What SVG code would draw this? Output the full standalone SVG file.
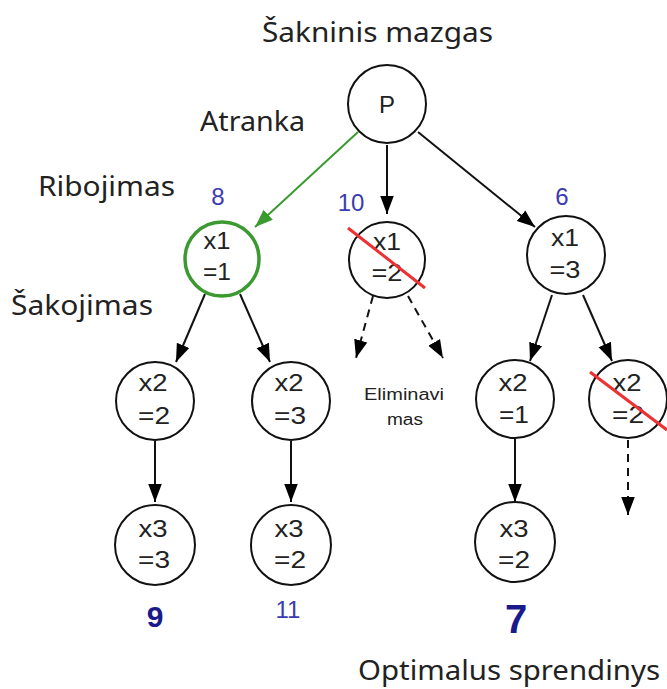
<svg xmlns="http://www.w3.org/2000/svg" width="667" height="689" viewBox="0 0 667 689">
<defs>
<marker id="ah" markerUnits="userSpaceOnUse" markerWidth="18" markerHeight="24" viewBox="0 0 24 18" refX="24" refY="9" orient="auto"><path d="M0,0 L24,9 L0,18 Z" fill="#000"/></marker>
<marker id="ahg" markerUnits="userSpaceOnUse" markerWidth="18" markerHeight="24" viewBox="0 0 24 18" refX="24" refY="9" orient="auto"><path d="M0,0 L24,9 L0,18 Z" fill="#3a9a30"/></marker>
<style>
.n{fill:#fff;stroke:#111;stroke-width:2}
.g{fill:#fff;stroke:#3a9a30;stroke-width:3.5}
.t{font-family:"Liberation Sans",Arial,sans-serif;font-size:24px;fill:#222;text-anchor:middle}
.lab{font-family:"Noto Sans","Open Sans",sans-serif;font-size:27px;fill:#222}
.b{font-family:"Liberation Sans",Arial,sans-serif;font-size:24px;fill:#3b3bb0;text-anchor:middle}
.e{stroke:#111;stroke-width:2;fill:none;marker-end:url(#ah)}
.d{stroke:#111;stroke-width:2;fill:none;stroke-dasharray:8,6;marker-end:url(#ah)}
.x{stroke:#ee3030;stroke-width:3}
</style>
</defs>
<g id="labels">
<text class="lab" x="262" y="42" textLength="231" lengthAdjust="spacingAndGlyphs">Šakninis mazgas</text>
<text class="lab" x="200" y="131" textLength="105" lengthAdjust="spacingAndGlyphs">Atranka</text>
<text class="lab" x="38" y="196" textLength="137" lengthAdjust="spacingAndGlyphs">Ribojimas</text>
<text class="lab" x="11" y="315" textLength="142" lengthAdjust="spacingAndGlyphs">Šakojimas</text>
<text class="lab" x="358" y="680" textLength="302" lengthAdjust="spacingAndGlyphs">Optimalus sprendinys</text>
<text x="364" y="400" font-family="Liberation Sans,Arial,sans-serif" font-size="16" fill="#222" textLength="80" lengthAdjust="spacingAndGlyphs">Eliminavi</text>
<text x="387" y="425" font-family="Liberation Sans,Arial,sans-serif" font-size="16" fill="#222" textLength="36" lengthAdjust="spacingAndGlyphs">mas</text>
<text class="b" x="218" y="205">8</text>
<text class="b" x="351" y="211">10</text>
<text class="b" x="562" y="205">6</text>
<text x="155" y="627" font-family="Liberation Sans,Arial,sans-serif" font-size="30" font-weight="bold" fill="#1a1a8c" text-anchor="middle">9</text>
<text class="b" x="288" y="618" font-size="22">11</text>
<text x="516" y="633" font-family="Liberation Sans,Arial,sans-serif" font-size="40" font-weight="bold" fill="#1a1a8c" text-anchor="middle">7</text>
</g>
<g id="connectors">
<line x1="358" y1="132" x2="255" y2="227" stroke="#3a9a30" stroke-width="2" marker-end="url(#ahg)"/>
<line class="e" x1="387" y1="145" x2="387" y2="214"/>
<line class="e" x1="418" y1="132" x2="535" y2="227"/>
<line class="e" x1="205" y1="294" x2="176" y2="362"/>
<line class="e" x1="240" y1="294" x2="270" y2="362"/>
<line class="d" x1="373" y1="296" x2="356" y2="358"/>
<line class="d" x1="408" y1="296" x2="443" y2="358"/>
<line class="e" x1="552" y1="295" x2="530" y2="361"/>
<line class="e" x1="583" y1="295" x2="612" y2="361"/>
<line class="e" x1="155" y1="441" x2="155" y2="502"/>
<line class="e" x1="291" y1="441" x2="291" y2="502"/>
<line class="e" x1="515" y1="439" x2="515" y2="502"/>
<line class="d" x1="628" y1="440" x2="628" y2="515"/>
</g>
<g id="root"><circle class="n" cx="387" cy="104" r="39"/><text class="t" x="387" y="113" font-size="27">P</text></g>
<g id="x1_1"><circle class="g" cx="222" cy="259" r="37"/><text class="t" x="217" y="249" textLength="27" lengthAdjust="spacingAndGlyphs">x1</text><text class="t" x="217" y="280" textLength="28" lengthAdjust="spacingAndGlyphs">=1</text></g>
<g id="x1_2"><circle class="n" cx="387" cy="260" r="38"/><text class="t" x="387" y="250" textLength="28" lengthAdjust="spacingAndGlyphs">x1</text><text class="t" x="387" y="281" textLength="31" lengthAdjust="spacingAndGlyphs">=2</text><line class="x" x1="348" y1="228" x2="425" y2="288"/></g>
<g id="x1_3"><circle class="n" cx="566" cy="255" r="39"/><text class="t" x="565" y="246" textLength="28" lengthAdjust="spacingAndGlyphs">x1</text><text class="t" x="565" y="278" textLength="31" lengthAdjust="spacingAndGlyphs">=3</text></g>
<g id="x2_2"><circle class="n" cx="155" cy="401" r="39"/><text class="t" x="153" y="391" textLength="29" lengthAdjust="spacingAndGlyphs">x2</text><text class="t" x="154" y="424" textLength="32" lengthAdjust="spacingAndGlyphs">=2</text></g>
<g id="x2_3"><circle class="n" cx="291" cy="401" r="39"/><text class="t" x="289" y="391" textLength="29" lengthAdjust="spacingAndGlyphs">x2</text><text class="t" x="290" y="424" textLength="32" lengthAdjust="spacingAndGlyphs">=3</text></g>
<g id="x2_1"><circle class="n" cx="515" cy="399" r="39"/><text class="t" x="513" y="391" textLength="29" lengthAdjust="spacingAndGlyphs">x2</text><text class="t" x="514" y="423" textLength="30" lengthAdjust="spacingAndGlyphs">=1</text></g>
<g id="x2_2b"><circle class="n" cx="628" cy="399" r="39"/><text class="t" x="627" y="391" textLength="29" lengthAdjust="spacingAndGlyphs">x2</text><text class="t" x="628" y="423" textLength="32" lengthAdjust="spacingAndGlyphs">=2</text><line class="x" x1="590" y1="372" x2="667" y2="430"/></g>
<g id="x3_3"><circle class="n" cx="155" cy="545" r="40"/><text class="t" x="153" y="537" textLength="29" lengthAdjust="spacingAndGlyphs">x3</text><text class="t" x="154" y="568" textLength="32" lengthAdjust="spacingAndGlyphs">=3</text></g>
<g id="x3_2"><circle class="n" cx="291" cy="545" r="40"/><text class="t" x="289" y="537" textLength="29" lengthAdjust="spacingAndGlyphs">x3</text><text class="t" x="290" y="568" textLength="32" lengthAdjust="spacingAndGlyphs">=2</text></g>
<g id="x3_2b"><circle class="n" cx="515" cy="542" r="40"/><text class="t" x="514" y="537" textLength="29" lengthAdjust="spacingAndGlyphs">x3</text><text class="t" x="514" y="568" textLength="32" lengthAdjust="spacingAndGlyphs">=2</text></g>
</svg>
